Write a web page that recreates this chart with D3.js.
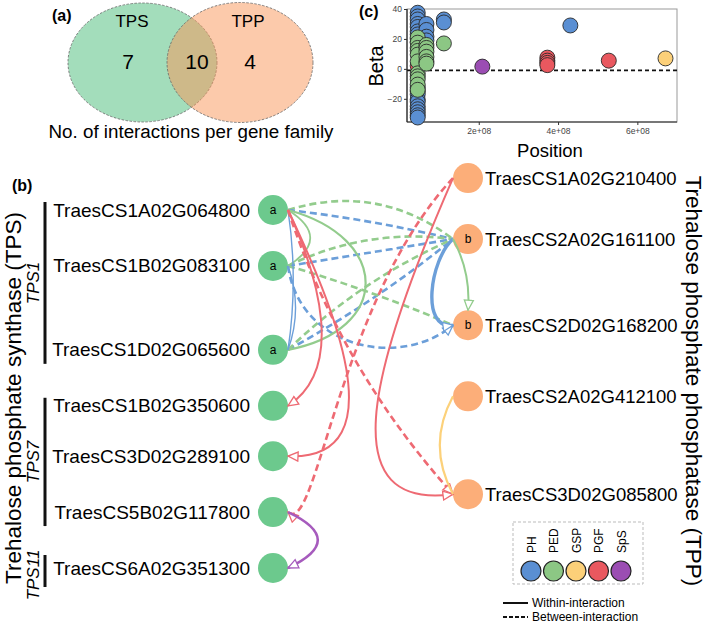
<!DOCTYPE html>
<html>
<head>
<meta charset="utf-8">
<script src="https://cdn.jsdelivr.net/npm/d3@7"></script>
<style>
body { margin: 0; background: #fff; }
svg { font-family: "Liberation Sans", Arial, sans-serif; }
</style>
</head>
<body>
<svg width="709" height="624"></svg>
<script>
// ---- data ----
const vennSets = ["TPS", "TPP"];
const vennCounts = [7, 10, 4]; // TPS only, shared (between), TPP only

const traits = ["PH", "PED", "GSP", "PGF", "SpS"];

// (c) beta vs position
const scatterTrait = [
  "PH","PH","PH","PH","PH","PH","PH","PH","PH","PH","PH","PH","PH","PH","PH","PH","PH","PH","PH",
  "PH","PH","PH","PH",
  "PH","PH","PH",
  "PGF",
  "PED","PED","PED","PED","PED","PED","PED","PED","PED","PED","PED",
  "PED","PED","PED","PED","PED","PED",
  "PED",
  "SpS",
  "PGF","PGF","PGF","PGF",
  "PGF",
  "GSP"
];
const scatterPos = [
  4.6e7,4.6e7,4.6e7,4.6e7,4.6e7,4.6e7,4.6e7,4.6e7,4.6e7,4.6e7,4.6e7,4.6e7,4.6e7,4.6e7,4.6e7,4.6e7,4.6e7,4.6e7,4.6e7,
  6.8e7,6.8e7,6.8e7,6.8e7,
  1.12e8,1.12e8,4.31e8,
  4.6e7,
  4.6e7,4.6e7,4.6e7,4.6e7,4.6e7,4.6e7,4.6e7,4.6e7,4.6e7,4.6e7,4.6e7,
  6.8e7,6.8e7,6.8e7,6.8e7,6.8e7,6.8e7,
  1.12e8,
  2.09e8,
  3.73e8,3.73e8,3.73e8,3.73e8,
  5.28e8,
  6.71e8
];
const scatterBeta = [
  37.5,35,33,30,28,25,23,20,18,-12.5,-15,-17,-20.5,-22,-25,-27,-29,-31,-32.5,
  30,26,21.5,19,
  33,31,29,
  2,
  21,17.5,14,12,9.5,5,-3,-5,-7,-10.5,-14,
  16,14,11.5,8,5,3.5,
  17,
  1.5,
  7.5,5.5,4,2.5,
  5.5,
  7
];

// (b) network
const tpsGenes = ["TraesCS1A02G064800","TraesCS1B02G083100","TraesCS1D02G065600",
  "TraesCS1B02G350600","TraesCS3D02G289100","TraesCS5B02G117800","TraesCS6A02G351300"];
const tpsRow = [0, 1, 2.5, 3.5, 4.4, 5.4, 6.4];
const tpsTag = ["a","a","a","","","",""];
const tpsFamily = ["TPS1","TPS7","TPS11"];
const tpsFamilyGenes = [[0, 2], [3, 5], [6, 6]];

const tppGenes = ["TraesCS1A02G210400","TraesCS2A02G161100","TraesCS2D02G168200",
  "TraesCS2A02G412100","TraesCS3D02G085800"];
const tppRow = [-0.57, 0.52, 2.06, 3.33, 5.08];
const tppTag = ["","b","b","",""];

// from, to, trait, kind
const edges = [
  ["TraesCS1A02G064800","TraesCS2A02G161100","PED","between"],
  ["TraesCS1A02G064800","TraesCS2A02G161100","PH","between"],
  ["TraesCS1B02G083100","TraesCS2A02G161100","PED","between"],
  ["TraesCS1B02G083100","TraesCS2A02G161100","PH","between"],
  ["TraesCS1D02G065600","TraesCS2A02G161100","PH","between"],
  ["TraesCS1D02G065600","TraesCS2A02G161100","PED","between"],
  ["TraesCS1B02G083100","TraesCS2D02G168200","PED","between"],
  ["TraesCS1B02G083100","TraesCS2D02G168200","PH","between"],
  ["TraesCS1A02G064800","TraesCS1B02G083100","PED","within"],
  ["TraesCS1A02G064800","TraesCS1D02G065600","PED","within"],
  ["TraesCS1A02G064800","TraesCS1D02G065600","PH","within"],
  ["TraesCS1B02G083100","TraesCS1D02G065600","PH","within"],
  ["TraesCS1A02G064800","TraesCS1B02G350600","PGF","within"],
  ["TraesCS1A02G064800","TraesCS3D02G289100","PGF","within"],
  ["TraesCS1A02G064800","TraesCS3D02G085800","PGF","between"],
  ["TraesCS1A02G210400","TraesCS5B02G117800","PGF","between"],
  ["TraesCS1A02G210400","TraesCS3D02G085800","PGF","within"],
  ["TraesCS2A02G161100","TraesCS2D02G168200","PH","within"],
  ["TraesCS2A02G161100","TraesCS2D02G168200","PED","within"],
  ["TraesCS2A02G412100","TraesCS3D02G085800","GSP","within"],
  ["TraesCS5B02G117800","TraesCS6A02G351300","SpS","within"]
];

// ---- drawing ----
const svg = d3.select("svg");
const traitColor = d3.scaleOrdinal().domain(traits)
  .range(["#6c9fd9", "#93cc8d", "#fcd17a", "#ee6a73", "#a65bbd"]);
const dotColor = d3.scaleOrdinal().domain(traits)
  .range(["#5a8fd3", "#8cc784", "#fcd079", "#e9585f", "#9b4db3"]);

// (a) Venn
const ga = svg.append("g");
ga.append("text").attr("x", 52).attr("y", 21).attr("font-size", 16).attr("font-weight", "bold").text("(a)");
const vennShapes = [
  {cx: 142.5, cy: 62.5, rx: 74.5, ry: 59.5, fill: "rgb(72,187,120)"},
  {cx: 240, cy: 62.5, rx: 73, ry: 60, fill: "rgb(250,150,88)"}
];
ga.selectAll("ellipse").data(vennShapes).enter().append("ellipse")
  .attr("cx", d => d.cx).attr("cy", d => d.cy).attr("rx", d => d.rx).attr("ry", d => d.ry)
  .attr("fill", d => d.fill).attr("fill-opacity", 0.5)
  .attr("stroke", "#666").attr("stroke-width", 0.8).attr("stroke-dasharray", "2.5,1.5");
ga.selectAll(".set").data(vennSets).enter().append("text")
  .attr("x", (d, i) => [132, 248][i]).attr("y", 27)
  .attr("text-anchor", "middle").attr("font-size", 17).text(d => d);
ga.selectAll(".cnt").data(vennCounts).enter().append("text")
  .attr("x", (d, i) => [128, 197, 250][i]).attr("y", 69)
  .attr("text-anchor", "middle").attr("font-size", 21).text(d => d);
ga.append("text").attr("x", 191).attr("y", 138).attr("text-anchor", "middle")
  .attr("font-size", 18.8).text("No. of interactions per gene family");

// (c) scatter
const x = d3.scaleLinear().domain([1.9e7, 7.0e8]).range([407, 677]);
const y = d3.scaleLinear().domain([-35.5, 40]).range([122, 9]);
const gc = svg.append("g");
gc.append("text").attr("x", 359).attr("y", 17).attr("font-size", 16).attr("font-weight", "bold").text("(c)");
gc.append("rect").attr("x", 407).attr("y", 9).attr("width", 270).attr("height", 113)
  .attr("fill", "none").attr("stroke", "#999").attr("stroke-width", 1);
gc.append("line").attr("x1", 407).attr("x2", 677).attr("y1", y(-1)).attr("y2", y(-1))
  .attr("stroke", "#111").attr("stroke-width", 1.6).attr("stroke-dasharray", "4,3");
const yAxis = gc.append("g").attr("transform", "translate(407,0)")
  .call(d3.axisLeft(y).tickValues([-20, 0, 20, 40]).tickSize(3).tickPadding(2));
const xAxis = gc.append("g").attr("transform", "translate(0,122)")
  .call(d3.axisBottom(x).tickValues([2e8, 4e8, 6e8]).tickSize(3).tickPadding(3)
    .tickFormat(d => d3.format(".0e")(d).replace("e+", "e+0")));
[yAxis, xAxis].forEach(a => {
  a.selectAll("text").attr("font-size", 8.5).attr("fill", "#444").attr("font-family", "Liberation Sans, Arial");
  a.selectAll("line").attr("stroke", "#333");
  a.select(".domain").attr("stroke", "#222").attr("stroke-width", 1.2);
});
xAxis.select(".domain").attr("d", "M0,0H270").attr("transform", "translate(407,0)");
yAxis.select(".domain").attr("d", "M0,0V113").attr("transform", "translate(0,9)");

const pts = scatterTrait.map((t, i) => ({t, pos: scatterPos[i], beta: scatterBeta[i]}));
const drawOrder = ["PH", "PGF", "PED", "GSP", "SpS"];
pts.sort((a, b) => drawOrder.indexOf(a.t) - drawOrder.indexOf(b.t));
gc.selectAll("circle").data(pts).enter().append("circle")
  .attr("cx", d => x(d.pos)).attr("cy", d => y(d.beta)).attr("r", 7.5)
  .attr("fill", d => dotColor(d.t)).attr("stroke", "#2a2a2a").attr("stroke-width", 0.9);
gc.append("text").attr("transform", "translate(383,66) rotate(-90)")
  .attr("text-anchor", "middle").attr("font-size", 20).text("Beta");
gc.append("text").attr("x", 550).attr("y", 157).attr("text-anchor", "middle")
  .attr("font-size", 18.5).text("Position");

// (b) network
const gb = svg.append("g");
gb.append("text").attr("x", 12).attr("y", 191).attr("font-size", 16).attr("font-weight", "bold").text("(b)");
const rowY = d3.scaleLinear().domain([0, 6.4]).range([210, 568]);
const R = 15;
const nodes = {};
tpsGenes.forEach((g, i) => nodes[g] = {id: g, side: "TPS", x: 273, y: rowY(tpsRow[i]), tag: tpsTag[i]});
tppGenes.forEach((g, i) => nodes[g] = {id: g, side: "TPP", x: 468, y: rowY(tppRow[i]), tag: tppTag[i]});

// curve shapes (chord-relative control points) and style per edge
const edgeShape = [0.17, 0.02, 0.1, 0, -0.03, 0.06, 0.02, [0.22,-0.42,0.80,-0.34],
  0.53, [0.2,0.74,0.86,0.74], 0.05, 0.12,
  [0.35,0.16,0.81,0.29], [0.36,0.17,1.02,0.46], -0.07, [0.43,-0.13,1.03,0.1],
  [0.64,-0.28,1.05,-0.37], [0.24,-0.27,1.06,-0.38], 0.1, -0.18, 0.71];
const edgeArrow = [0,0,0,0,0,0,0,1, 0,0,0,0, 1,1,1,1, 1,1,1,0,1];
const edgeWidth = [2.6,2.6,2.6,2.6,2.6,2.6,2.6,2.6, 1.8,2.2,1.4,1.4, 2,2,2.6,2.6, 2,3.4,2,2.2,2.6];
const edgeToTop = [0,0,0,0,0,0,0,0, 0,0,0,0, 0,0,0,0, 0,0,1,0,0];

const defs = svg.append("defs");
traits.forEach(t => {
  defs.append("marker").attr("id", "arr-" + t)
    .attr("viewBox", "0 0 12 12").attr("refX", 11).attr("refY", 6)
    .attr("markerWidth", 12).attr("markerHeight", 12)
    .attr("markerUnits", "userSpaceOnUse").attr("orient", "auto")
    .append("path").attr("d", "M1,1.5 L11,6 L1,10.5 Z")
    .attr("fill", "#fff").attr("stroke", traitColor(t)).attr("stroke-width", 1.3);
});

function anchor(n, top) {
  if (top) return [n.x, n.y - R];
  return n.side === "TPS" ? [n.x + R, n.y] : [n.x - R, n.y];
}
function edgePath(p0, p3, s) {
  const sh = typeof s === "number" ? [1 / 3, s, 2 / 3, s] : s;
  const dx = p3[0] - p0[0], dy = p3[1] - p0[1];
  const len = Math.hypot(dx, dy);
  const ux = dx / len, uy = dy / len, px = uy, py = -ux;
  const c1 = [p0[0] + (ux * sh[0] + px * sh[1]) * len, p0[1] + (uy * sh[0] + py * sh[1]) * len];
  const c2 = [p0[0] + (ux * sh[2] + px * sh[3]) * len, p0[1] + (uy * sh[2] + py * sh[3]) * len];
  const p = d3.path();
  p.moveTo(p0[0], p0[1]);
  p.bezierCurveTo(c1[0], c1[1], c2[0], c2[1], p3[0], p3[1]);
  return p.toString();
}

// family brackets and labels
tpsFamily.forEach((f, i) => {
  const [a, b] = tpsFamilyGenes[i];
  let y0 = rowY(tpsRow[a]) - 8, y1 = rowY(tpsRow[b]) + 14;
  if (a === b) { y0 = rowY(tpsRow[a]) - 13; y1 = rowY(tpsRow[a]) + 19; }
  gb.append("line").attr("x1", 45).attr("x2", 45).attr("y1", y0).attr("y2", y1)
    .attr("stroke", "#111").attr("stroke-width", 3);
  gb.append("text").attr("transform", `translate(39,${(y0 + y1) / 2 + (a === b ? 4 : 0)}) rotate(-90)`)
    .attr("text-anchor", "middle").attr("font-size", 17).attr("font-style", "italic").text(f);
});
gb.append("text").attr("transform", "translate(21,398) rotate(-90)")
  .attr("text-anchor", "middle").attr("font-size", 22.5).text("Trehalose phosphate synthase (TPS)");
gb.append("text").attr("transform", "translate(686,381) rotate(90)")
  .attr("text-anchor", "middle").attr("font-size", 22.5).text("Trehalose phosphate phosphatase (TPP)");

// nodes first, then edges over them
const nodeList = Object.values(nodes);
gb.selectAll(".node").data(nodeList).enter().append("circle")
  .attr("cx", d => d.x).attr("cy", d => d.y).attr("r", R)
  .attr("fill", d => d.side === "TPS" ? "#6cc98d" : "#fcae79");
gb.selectAll(".tag").data(nodeList.filter(d => d.tag)).enter().append("text")
  .attr("x", d => d.x).attr("y", d => d.y + 4).attr("text-anchor", "middle")
  .attr("font-size", 12).text(d => d.tag);
gb.selectAll(".lab").data(nodeList).enter().append("text")
  .attr("x", d => d.side === "TPS" ? 250 : 485).attr("y", d => d.y + 6.5)
  .attr("text-anchor", d => d.side === "TPS" ? "end" : "start")
  .attr("font-size", d => d.side === "TPS" ? 19 : 18.5).text(d => d.id);

gb.selectAll(".edge").data(edges).enter().append("path")
  .attr("d", (e, i) => edgePath(anchor(nodes[e[0]]), anchor(nodes[e[1]], edgeToTop[i]), edgeShape[i]))
  .attr("fill", "none")
  .attr("stroke", e => traitColor(e[2]))
  .attr("stroke-width", (e, i) => edgeWidth[i])
  .attr("stroke-dasharray", e => e[3] === "between" ? "7,4" : null)
  .attr("marker-end", (e, i) => edgeArrow[i] ? `url(#arr-${e[2]})` : null);

// legend
const lg = svg.append("g");
lg.append("rect").attr("x", 513).attr("y", 522).attr("width", 130).attr("height", 62)
  .attr("fill", "none").attr("stroke", "#bbb").attr("stroke-dasharray", "3,2");
const lx = d3.scalePoint().domain(traits).range([531, 621]);
lg.selectAll("circle").data(traits).enter().append("circle")
  .attr("cx", d => lx(d)).attr("cy", 571).attr("r", 10)
  .attr("fill", d => dotColor(d)).attr("stroke", "#222").attr("stroke-width", 1.2);
lg.selectAll(".tl").data(traits).enter().append("text")
  .attr("transform", d => `translate(${lx(d) + 4.5},553) rotate(-90)`)
  .attr("font-size", 12).text(d => d);
const kinds = ["Within-interaction", "Between-interaction"];
kinds.forEach((k, i) => {
  lg.append("line").attr("x1", 503).attr("x2", 528).attr("y1", 603 + i * 14).attr("y2", 603 + i * 14)
    .attr("stroke", "#111").attr("stroke-width", 2).attr("stroke-dasharray", i ? "4,2" : null);
  lg.append("text").attr("x", 532).attr("y", 607 + i * 14).attr("font-size", 12).text(k);
});
</script>
</body>
</html>
